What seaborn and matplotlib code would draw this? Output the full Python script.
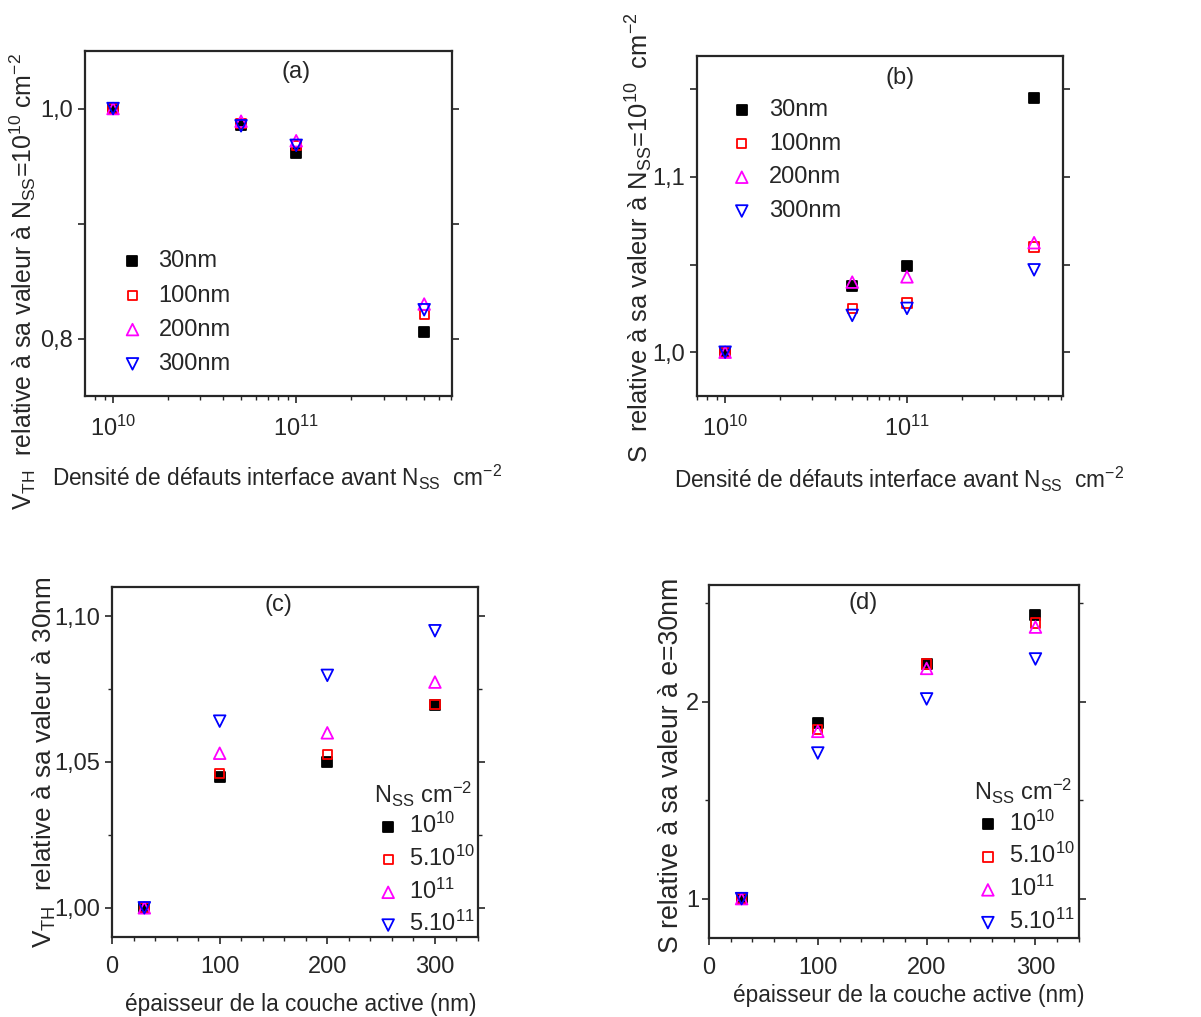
import numpy as np
import pandas as pd
import matplotlib
matplotlib.use('Agg')
import matplotlib.pyplot as plt
import matplotlib.ticker as mticker
import seaborn as sns

# ---- data ----
nss = [1e10, 5e10, 1e11, 5e11]
thick_labels = ['30nm', '100nm', '200nm', '300nm']

# (a) VTH relative to its value at Nss=1e10
vth_30 = [1.0, 0.986, 0.961, 0.806]
vth_100 = [1.0, 0.987, 0.968, 0.821]
vth_200 = [1.0, 0.989, 0.972, 0.830]
vth_300 = [1.0, 0.985, 0.968, 0.825]

# (b) S relative to its value at Nss=1e10
s_30 = [1.0, 1.038, 1.049, 1.145]
s_100 = [1.0, 1.025, 1.028, 1.060]
s_200 = [1.0, 1.040, 1.043, 1.0625]
s_300 = [1.0, 1.021, 1.025, 1.047]

thickness = [30, 100, 200, 300]
nss_labels = [r'$10^{10}$', r'$5.10^{10}$', r'$10^{11}$', r'$5.10^{11}$']

# (c) VTH relative to its value at 30nm
vthc_1e10 = [1.0, 1.0447, 1.050, 1.0697]
vthc_5e10 = [1.0, 1.046, 1.0526, 1.0697]
vthc_1e11 = [1.0, 1.053, 1.060, 1.0774]
vthc_5e11 = [1.0, 1.064, 1.0797, 1.095]

# (d) S relative to its value at 30nm
sd_1e10 = [1.0, 1.892, 2.19, 2.44]
sd_5e10 = [1.0, 1.858, 2.193, 2.40]
sd_1e11 = [1.0, 1.85, 2.17, 2.38]
sd_5e11 = [1.0, 1.74, 2.015, 2.218]

colors = ['black', '#ff0000', '#ff00ff', '#0000ff']
markers = ['s', 's', '^', 'v']
fills = ['black', 'none', 'none', 'none']
sizes = [55, 45, 70, 70]

sns.set_style('ticks')
plt.rcParams['font.family'] = ['Liberation Sans', 'DejaVu Sans']
plt.rcParams['mathtext.fontset'] = 'custom'
plt.rcParams['mathtext.rm'] = 'Liberation Sans'
plt.rcParams['mathtext.it'] = 'Liberation Sans:italic'
plt.rcParams['mathtext.bf'] = 'Liberation Sans:bold'
plt.rcParams['axes.linewidth'] = 1.6
FS = 17
XL = 16.3

fig = plt.figure(figsize=(12.01, 10.17), dpi=100)
ax_a = fig.add_axes([0.0708, 0.6106, 0.3056, 0.3392])
ax_b = fig.add_axes([0.5803, 0.6106, 0.3047, 0.3343])
ax_c = fig.add_axes([0.0933, 0.0787, 0.3047, 0.3441])
ax_d = fig.add_axes([0.5903, 0.0777, 0.3081, 0.3471])


def draw(ax, x, series, labels):
    for i, (y, lab) in enumerate(zip(series, labels)):
        sns.scatterplot(x=x, y=y, ax=ax, marker=markers[i], s=sizes[i],
                        facecolor=fills[i], edgecolor=colors[i],
                        linewidth=1.3, label=lab, zorder=3 + i)
    for side in ['top', 'right', 'left', 'bottom']:
        ax.spines[side].set_visible(True)
        ax.spines[side].set_linewidth(1.6)
    ax.tick_params(which='major', direction='out', length=5, width=1.2,
                   labelsize=FS, right=True)
    ax.tick_params(which='minor', direction='out', length=3, width=1.0,
                   right=True)
    ax.tick_params(axis='x', which='major', pad=9)


# ---- (a) ----
draw(ax_a, nss, [vth_30, vth_100, vth_200, vth_300], thick_labels)
ax_a.set_xscale('log')
ax_a.set_xlim(7.03e9, 7.1e11)
ax_a.set_ylim(0.75, 1.05)
ax_a.set_yticks([0.8, 1.0], ['0,8', '1,0'])
ax_a.set_yticks([0.9], minor=True)
ax_a.xaxis.set_minor_formatter(mticker.NullFormatter())
ax_a.tick_params(axis='y', which='minor', length=5, width=1.2)
ax_a.set_ylabel(r'$\mathregular{V_{TH}}$  relative à sa valeur à $\mathregular{N_{SS}}$=10$^{10}$ cm$^{-2}$',
                fontsize=17.9)
ax_a.yaxis.set_label_coords(-0.128, 0.333)
ax_a.set_xlabel(r'Densité de défauts interface avant $\mathregular{N_{SS}}$  cm$^{-2}$', fontsize=XL)
ax_a.xaxis.set_label_coords(0.523, -0.194)
ax_a.text(0.575, 0.939, '(a)', transform=ax_a.transAxes, ha='center', va='center', fontsize=FS)
ax_a.legend(loc='upper left', bbox_to_anchor=(0.065, 0.45), frameon=False, fontsize=FS,
            handletextpad=0.5, labelspacing=0.52, borderaxespad=0, handlelength=1.2)

# ---- (b) ----
draw(ax_b, nss, [s_30, s_100, s_200, s_300], thick_labels)
ax_b.set_xscale('log')
ax_b.set_xlim(7.0e9, 7.2e11)
ax_b.set_ylim(0.975, 1.169)
ax_b.set_yticks([1.0, 1.1], ['1,0', '1,1'])
ax_b.set_yticks([1.05, 1.15], minor=True)
ax_b.xaxis.set_minor_formatter(mticker.NullFormatter())
ax_b.tick_params(axis='y', which='minor', length=5, width=1.2)
ax_b.set_ylabel(r'S  relative à sa valeur à $\mathregular{N_{SS}}$=10$^{10}$  cm$^{-2}$', fontsize=18.4)
ax_b.yaxis.set_label_coords(-0.115, 0.466)
ax_b.set_xlabel(r'Densité de défauts interface avant $\mathregular{N_{SS}}$  cm$^{-2}$', fontsize=XL)
ax_b.xaxis.set_label_coords(0.552, -0.203)
ax_b.text(0.555, 0.935, '(b)', transform=ax_b.transAxes, ha='center', va='center', fontsize=FS)
ax_b.legend(loc='upper left', bbox_to_anchor=(0.058, 0.902), frameon=False, fontsize=FS,
            handletextpad=0.55, labelspacing=0.5, borderaxespad=0, handlelength=1.2)

# ---- (c) ----
draw(ax_c, thickness, [vthc_1e10, vthc_5e10, vthc_1e11, vthc_5e11], nss_labels)
ax_c.set_xlim(0, 340)
ax_c.set_ylim(0.99, 1.11)
ax_c.set_xticks([0, 100, 200, 300])
ax_c.xaxis.set_minor_locator(mticker.MultipleLocator(20))
ax_c.set_yticks([1.0, 1.05, 1.10], ['1,00', '1,05', '1,10'])
ax_c.set_yticks([1.025, 1.075], minor=True)
ax_c.set_ylabel(r'$\mathregular{V_{TH}}$  relative à sa valeur à 30nm', fontsize=18.8)
ax_c.yaxis.set_label_coords(-0.148, 0.5)
ax_c.set_xlabel('épaisseur de la couche active (nm)', fontsize=XL)
ax_c.xaxis.set_label_coords(0.516, -0.16)
ax_c.text(0.454, 0.949, '(c)', transform=ax_c.transAxes, ha='center', va='center', fontsize=FS)
leg = ax_c.legend(loc='lower left', bbox_to_anchor=(0.69, -0.025), frameon=False, fontsize=FS,
                  title=r'$\mathregular{N_{SS}}$ cm$^{-2}$', title_fontsize=FS,
                  handletextpad=0.3, labelspacing=0.32, borderaxespad=0, handlelength=1.2)
leg._legend_box.align = 'left'
leg._legend_box.sep = 3

# ---- (d) ----
draw(ax_d, thickness, [sd_1e10, sd_5e10, sd_1e11, sd_5e11], nss_labels)
ax_d.set_xlim(0, 340)
ax_d.set_ylim(0.8, 2.594)
ax_d.set_xticks([0, 100, 200, 300])
ax_d.xaxis.set_minor_locator(mticker.MultipleLocator(20))
ax_d.set_yticks([1, 2], ['1', '2'])
ax_d.set_yticks([1.5, 2.5], minor=True)
ax_d.tick_params(axis='y', which='major', pad=2)
ax_d.set_ylabel('S relative à sa valeur à e=30nm', fontsize=19.2)
ax_d.yaxis.set_label_coords(-0.068, 0.489)
ax_d.set_xlabel('épaisseur de la couche active (nm)', fontsize=XL)
ax_d.xaxis.set_label_coords(0.54, -0.13)
ax_d.text(0.416, 0.949, '(d)', transform=ax_d.transAxes, ha='center', va='center', fontsize=FS)
leg = ax_d.legend(loc='lower left', bbox_to_anchor=(0.69, -0.015), frameon=False, fontsize=FS,
                  title=r'$\mathregular{N_{SS}}$ cm$^{-2}$', title_fontsize=FS,
                  handletextpad=0.3, labelspacing=0.32, borderaxespad=0, handlelength=1.2)
leg._legend_box.align = 'left'
leg._legend_box.sep = 3

plt.savefig('out.png', dpi=100)
